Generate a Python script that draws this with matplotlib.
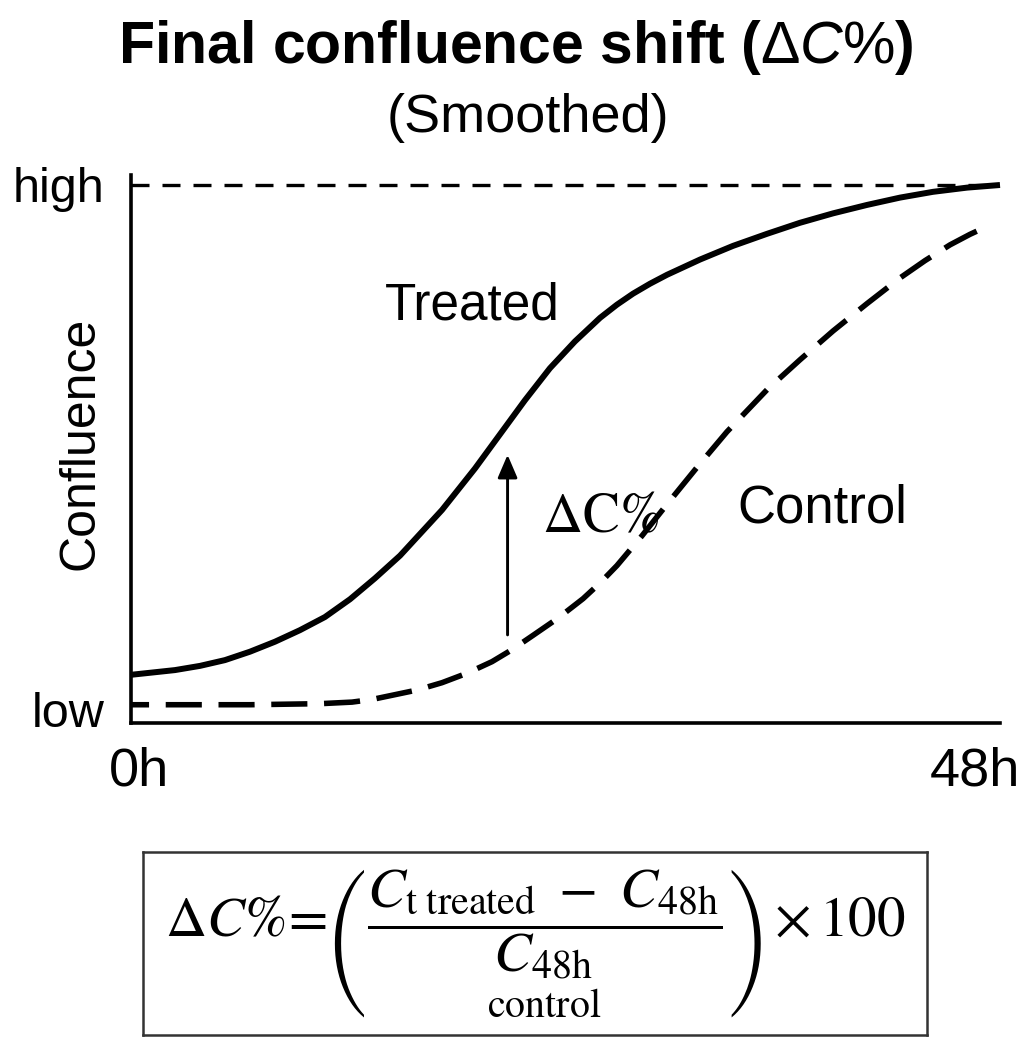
import matplotlib
matplotlib.use("Agg")
import matplotlib.pyplot as plt
from matplotlib.transforms import ScaledTranslation

plt.rcParams["font.family"] = ["Liberation Sans", "DejaVu Sans"]
plt.rcParams["mathtext.fontset"] = "stix"
# sans maths for the title only (picked through math_fontfamily="custom")
plt.rcParams["mathtext.rm"] = "Liberation Sans"
plt.rcParams["mathtext.it"] = "Liberation Sans:italic"
plt.rcParams["mathtext.bf"] = "Liberation Sans:bold"

# ── data (hours, relative confluence: 0 = low, 1 = high) ─────────────────────
treated_t = [0.0, 2.43, 3.81, 5.19, 6.57, 7.95, 9.33, 10.71, 12.10, 13.48,
             14.86, 17.18, 19.00, 20.38, 21.76, 23.14, 24.52, 25.91, 26.84,
             27.73, 28.67, 29.61, 31.43, 33.25, 35.13, 36.95, 38.78, 40.65,
             42.48, 44.30, 46.18, 48.0]
treated_c = [0.067, 0.076, 0.084, 0.095, 0.111, 0.130, 0.152, 0.177, 0.211,
             0.251, 0.294, 0.381, 0.460, 0.525, 0.590, 0.651, 0.702, 0.747,
             0.772, 0.793, 0.812, 0.829, 0.858, 0.884, 0.907, 0.928, 0.946,
             0.962, 0.976, 0.987, 0.995, 1.0]

control_t = [0.0, 6.57, 10.44, 12.21, 13.31, 14.42, 15.80, 17.18, 18.56, 19.94,
             21.05, 22.20, 23.59, 24.97, 25.91, 26.84, 28.23, 29.61, 31.26,
             32.92, 35.13, 36.95, 38.78, 40.65, 42.48, 43.86, 45.24, 46.34,
             47.34]
control_c = [0.010, 0.010, 0.012, 0.015, 0.020, 0.028, 0.038, 0.052, 0.070,
             0.092, 0.115, 0.142, 0.175, 0.212, 0.242, 0.275, 0.332, 0.392,
             0.462, 0.530, 0.610, 0.667, 0.722, 0.774, 0.823, 0.856, 0.886,
             0.906, 0.922]

arrow_t = 20.8
arrow_from = 0.143
arrow_to = 0.486

x_ticks = [0, 48]
x_labels = ["0h", "48h"]
y_ticks = [0, 1]
y_labels = ["low", "high"]

# ── figure ───────────────────────────────────────────────────────────────────
W, H = 1036, 1060
fig = plt.figure(figsize=(W / 100, H / 100), dpi=100)

def px(x0, y0, x1, y1):
    return [x0 / W, 1 - y1 / H, (x1 - x0) / W, (y1 - y0) / H]

ax = fig.add_axes(px(131, 174.5, 1000, 723))
ax.set_xlim(0, 48)
ax.set_ylim(-0.0248, 1.02)

for s in ["top", "right"]:
    ax.spines[s].set_visible(False)
for s in ["left", "bottom"]:
    ax.spines[s].set_linewidth(2.6)

# high reference line
ax.plot([0, 48], [1, 1], color="black", lw=2.4, dashes=(5.4, 3.9), zorder=1)

ax.plot(treated_t, treated_c, color="black", lw=4.3, solid_capstyle="butt",
        solid_joinstyle="round", clip_on=False, zorder=3)
ax.plot(control_t, control_c, color="black", lw=4.0, dash_capstyle="butt",
        linestyle=(3.25, (6.5, 3.0)), clip_on=False, zorder=3)

ax.annotate("", xy=(arrow_t, arrow_to), xytext=(arrow_t, arrow_from),
            arrowprops=dict(arrowstyle="-|>,head_length=1.4,head_width=0.6",
                            mutation_scale=10, color="black", lw=2.1,
                            shrinkA=0, shrinkB=0))

ax.text(25.96, 0.339, r"$\Delta\mathrm{C}\%$", fontsize=40, ha="center", va="baseline")
ax.text(18.84, 0.743, "Treated", fontsize=37, ha="center", va="baseline")
ax.text(38.17, 0.358, "Control", fontsize=38, ha="center", va="baseline")

ax.set_xticks(x_ticks)
ax.set_xticklabels(x_labels, fontsize=39)
ax.set_yticks(y_ticks)
ax.set_yticklabels(y_labels, fontsize=35)
ax.tick_params(axis="x", length=0, pad=17)
ax.tick_params(axis="y", length=0, pad=19)
shifts = [6, -18]
for lab, dx in zip(ax.get_xticklabels(), shifts):
    lab.set_transform(lab.get_transform() + ScaledTranslation(dx / 72, 0, fig.dpi_scale_trans))

ax.set_ylabel("Confluence", fontsize=36)
ax.yaxis.set_label_coords(-0.032, 0.51)

fig.text(516 / W, 1 - 63 / H, r"Final confluence shift ($\Delta\mathit{C}\%$)",
         fontsize=42.5, fontweight="bold", ha="center", va="baseline",
         math_fontfamily="custom")
fig.text(528 / W, 1 - 132 / H, "(Smoothed)", fontsize=39, ha="center", va="baseline")

# ── formula box ──────────────────────────────────────────────────────────────
bx = fig.add_axes(px(143, 852, 927, 1035))
bx.set_xticks([])
bx.set_yticks([])
for s in bx.spines.values():
    s.set_linewidth(1.8)
    s.set_edgecolor("#333333")
bx.text(0.5, 0.5,
        r"$\Delta C\%\!=\!\left(\dfrac{C_{\mathrm{t\ treated}}\ -\ C_{\mathrm{48h}}}"
        r"{\underset{\mathrm{control}}{C_{\mathrm{48h}}}}\right)\times 100$",
        fontsize=41, ha="center", va="center", transform=bx.transAxes)

fig.savefig("out.png", dpi=100)
